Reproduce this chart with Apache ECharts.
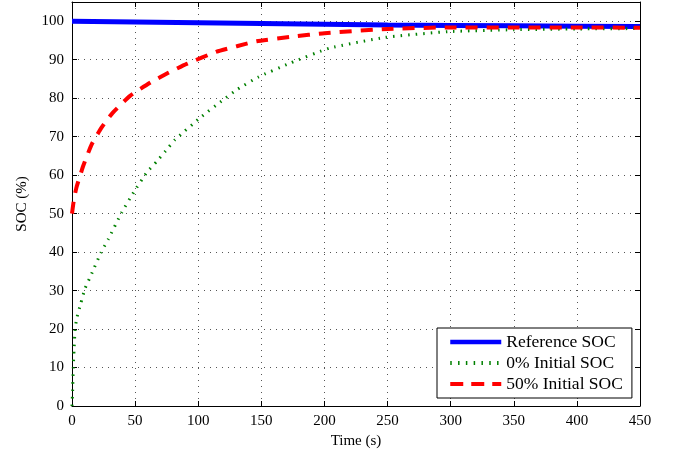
<!DOCTYPE html>
<html>
<head>
<meta charset="utf-8">
<script src="https://cdn.jsdelivr.net/npm/echarts@6/dist/echarts.min.js"></script>
<style>
html,body{margin:0;padding:0;background:#fff;}
#chart{width:673px;height:454px;}
</style>
</head>
<body>
<div id="chart"></div>
<script>
// ---- data ----
const seriesNames = ['Reference SOC', '0% Initial SOC', '50% Initial SOC'];

const refTime = [0, 50, 100, 150, 200, 250, 300, 350, 400, 450];
const refSOC  = [100, 99.8, 99.6, 99.4, 99.2, 99.0, 98.9, 98.8, 98.7, 98.6];

const zeroTime = [0, 0.5, 1, 1.6, 2.4, 3.7, 6.9, 10.3, 15.6, 22.7, 28.8, 39.4, 48.6, 59.2, 67, 74.2, 81.6, 102.2, 119.9, 131, 147.6, 172.7, 204, 248, 298, 350, 400, 450];
const zeroSOC  = [0, 4, 10, 14.5, 19.7, 22.7, 26.6, 30.5, 34.4, 39.7, 43.4, 50.3, 55.4, 60.7, 63.5, 66.3, 69.2, 75.1, 79.6, 82.3, 85.5, 89.1, 93.0, 95.8, 97.3, 97.8, 98.0, 98.1];

const halfTime = [0, 1, 2, 3.7, 9, 15.6, 23.5, 32.2, 46, 61.8, 76.3, 90.9, 114.6, 130.5, 146.3, 175, 200, 250, 300, 350, 400, 450];
const halfSOC  = [50, 52.5, 54.5, 57, 62.5, 68, 72.4, 76.2, 80.6, 84.0, 86.6, 88.9, 92.1, 93.5, 94.8, 96.0, 96.9, 98.0, 98.4, 98.4, 98.4, 98.3];

const xTicks = [0, 50, 100, 150, 200, 250, 300, 350, 400, 450];
const yTicks = [0, 10, 20, 30, 40, 50, 60, 70, 80, 90, 100];

function pairs(xs, ys) { return xs.map((x, i) => [x, ys[i]]); }

const FONT = 'Liberation Serif';
const chart = echarts.init(document.getElementById('chart'), null, {renderer: 'canvas'});

const gridLine = {show: true, lineStyle: {color: '#555', type: [1, 5], width: 1}};
const axisLineStyle = {show: true, onZero: false, lineStyle: {color: '#000', width: 1}};
const tickStyle = {show: true, inside: true, length: 5, lineStyle: {color: '#000'}};

const lineStyles = [
  {color: '#0000ff', width: 5, type: 'solid'},
  {color: '#008000', width: 3, type: [1.5, 6], cap: 'butt'},
  {color: '#ff0000', width: 4, type: [12, 9], cap: 'butt'}
];
const legendLineStyles = [
  {color: '#0000ff', width: 4.5, type: 'solid'},
  {color: '#008000', width: 4, type: [1.5, 6.3], cap: 'butt'},
  {color: '#ff0000', width: 4, type: [13, 8], cap: 'butt'}
];

const option = {
  animation: false,
  backgroundColor: '#fff',
  grid: {left: 72, right: 33, top: 2, bottom: 48, containLabel: false},
  xAxis: [{
    type: 'value', min: xTicks[0], max: xTicks[xTicks.length - 1], interval: 50,
    position: 'bottom',
    name: 'Time (s)', nameLocation: 'middle', nameGap: 25,
    nameTextStyle: {fontFamily: FONT, fontSize: 15, color: '#000'},
    axisLine: axisLineStyle, axisTick: tickStyle,
    axisLabel: {fontFamily: FONT, fontSize: 15, color: '#000', margin: 8},
    splitLine: gridLine
  }, {
    type: 'value', min: xTicks[0], max: xTicks[xTicks.length - 1], interval: 50,
    position: 'top',
    axisLine: axisLineStyle, axisTick: tickStyle,
    axisLabel: {show: false}, splitLine: {show: false}
  }],
  yAxis: [{
    type: 'value', min: 0, max: 105, interval: 10,
    position: 'left',
    name: 'SOC (%)', nameLocation: 'middle', nameGap: 42,
    nameTextStyle: {fontFamily: FONT, fontSize: 15, color: '#000'},
    axisLine: axisLineStyle, axisTick: tickStyle,
    axisLabel: {fontFamily: FONT, fontSize: 15, color: '#000', margin: 8, showMaxLabel: false,
      formatter: v => (yTicks.indexOf(v) >= 0 ? String(v) : '')},
    splitLine: gridLine
  }, {
    type: 'value', min: 0, max: 105, interval: 10,
    position: 'right',
    axisLine: axisLineStyle, axisTick: tickStyle,
    axisLabel: {show: false}, splitLine: {show: false}
  }],
  legend: {
    orient: 'vertical', align: 'left',
    left: 437, top: 328,
    padding: [5, 9, 5, 11],
    itemWidth: 51, itemHeight: 14, itemGap: 3,
    backgroundColor: '#fff', borderColor: '#000', borderWidth: 1, borderRadius: 0,
    itemStyle: {opacity: 0},
    textStyle: {fontFamily: FONT, fontSize: 17.5, color: '#000', lineHeight: 18, padding: [0, 0, 0, 0]},
    data: seriesNames.map((n, i) => ({name: n, lineStyle: legendLineStyles[i]}))
  },
  series: [{
    name: seriesNames[0], type: 'line', symbol: 'none', z: 3,
    data: pairs(refTime, refSOC),
    lineStyle: lineStyles[0],
    itemStyle: {color: '#0000ff'}
  }, {
    name: seriesNames[1], type: 'line', symbol: 'none', smooth: 0.15, z: 4,
    data: pairs(zeroTime, zeroSOC),
    lineStyle: lineStyles[1],
    itemStyle: {color: '#008000'}
  }, {
    name: seriesNames[2], type: 'line', symbol: 'none', smooth: 0.15, z: 5,
    data: pairs(halfTime, halfSOC),
    lineStyle: lineStyles[2],
    itemStyle: {color: '#ff0000'}
  }]
};
chart.setOption(option);
</script>
</body>
</html>
